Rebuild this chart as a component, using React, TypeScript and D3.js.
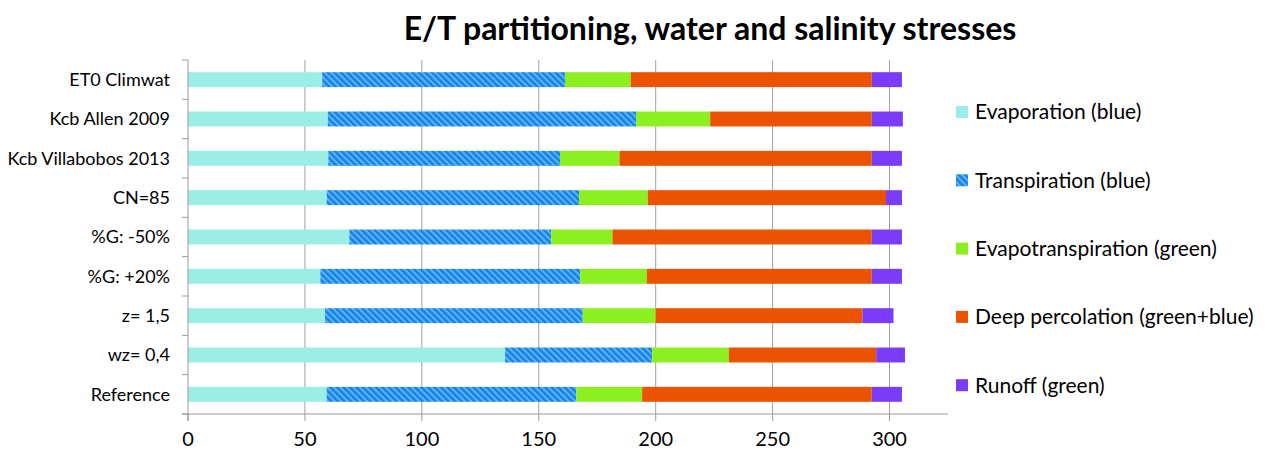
import React from "react";
import * as d3 from "d3";

const categories = [
  "ET0 Climwat",
  "Kcb Allen 2009",
  "Kcb Villabobos 2013",
  "CN=85",
  "%G: -50%",
  "%G: +20%",
  "z= 1,5",
  "wz= 0,4",
  "Reference",
];
const evaporation = [57.4, 59.8, 60.0, 59.3, 69.0, 56.6, 58.6, 135.6, 59.3];
const transpiration = [103.8, 131.8, 99.1, 107.9, 86.3, 111.1, 110.2, 62.9, 106.8];
const evapotranspiration = [28.1, 31.7, 25.4, 29.4, 26.2, 28.5, 31.2, 32.8, 28.1];
const deepPercolation = [103.1, 69.1, 107.9, 101.9, 110.9, 96.2, 88.4, 63.0, 98.2];
const runoff = [12.9, 13.3, 12.9, 6.8, 12.9, 12.9, 13.3, 12.3, 12.9];
const seriesNames = [
  "Evaporation (blue)",
  "Transpiration (blue)",
  "Evapotranspiration (green)",
  "Deep percolation (green+blue)",
  "Runoff (green)",
];
const xTicks = [0, 50, 100, 150, 200, 250, 300];
const title = "E/T partitioning, water and salinity stresses";

const keys = ["evap", "transp", "et", "deep", "runoff"];
const fills = ["#9beee6", "url(#hatch)", "#8cf020", "#ec5300", "#7a3cf8"];
const FONT = "Lato, 'Open Sans', sans-serif";

export default function App() {
  const W = 1268;
  const H = 455;
  const left = 188;
  const right = 948;
  const top = 60;
  const bottom = 414;

  const table = categories.map((c, i) => ({
    cat: c,
    evap: evaporation[i],
    transp: transpiration[i],
    et: evapotranspiration[i],
    deep: deepPercolation[i],
    runoff: runoff[i],
  }));
  const stacked = d3.stack<any>().keys(keys)(table);

  const x = d3.scaleLinear().domain([0, 325]).range([left, right]);
  const y = d3.scaleBand().domain(categories).range([top, bottom]).paddingInner(0.62).paddingOuter(0.31);
  const step = y.step();

  return (
    <svg width={W} height={H} style={{ position: "absolute", left: 0, top: 0, background: "#fff" }}>
      <defs>
        <pattern id="hatch" patternUnits="userSpaceOnUse" width={4.6} height={4.6} patternTransform="rotate(-45)">
          <rect x={0} y={0} width={4.6} height={4.6} fill="#52b6f7" />
          <rect x={0} y={0} width={2.4} height={4.6} fill="#1a7ce6" />
        </pattern>
      </defs>
      <text x={710} y={40} textAnchor="middle" fontFamily={FONT} fontWeight="bold" fontSize={32} fill="#000">
        {title}
      </text>
      {/* grid */}
      {xTicks.slice(1).map((t) => (
        <line key={t} x1={x(t)} x2={x(t)} y1={top} y2={bottom} stroke="#a0a0a0" strokeWidth={1} />
      ))}
      {/* bars */}
      {stacked.map((s, si) => (
        <g key={s.key}>
          {s.map((d, i) => (
            <rect
              key={i}
              x={x(d[0])}
              y={y(categories[i])}
              width={x(d[1]) - x(d[0])}
              height={y.bandwidth()}
              fill={fills[si]}
            />
          ))}
        </g>
      ))}
      {/* y axis */}
      <line x1={left} x2={left} y1={top} y2={bottom + 7} stroke="#9a9a9a" />
      {d3.range(categories.length + 1).map((i) => (
        <line key={i} x1={left - 6} x2={left} y1={top + i * step} y2={top + i * step} stroke="#9a9a9a" />
      ))}
      {categories.map((c) => (
        <text
          key={c}
          x={170}
          y={(y(c) as number) + y.bandwidth() / 2}
          dy="0.35em"
          textAnchor="end"
          fontFamily={FONT}
          fontSize={18}
          fill="#000"
        >
          {c}
        </text>
      ))}
      {/* x axis */}
      <line x1={left - 6} x2={right} y1={bottom} y2={bottom} stroke="#9a9a9a" />
      {xTicks.map((t) => (
        <g key={t}>
          <line x1={x(t)} x2={x(t)} y1={bottom} y2={bottom + 7} stroke="#9a9a9a" />
          <text x={x(t)} y={446} textAnchor="middle" fontFamily={FONT} fontSize={20} fill="#000">
            {t}
          </text>
        </g>
      ))}
      {/* legend */}
      {seriesNames.map((n, i) => (
        <g key={n} transform={`translate(956, ${112 + i * 68.3})`}>
          <rect x={0} y={-6} width={12} height={12} fill={fills[i]} />
          <text x={19} y={0} dy="0.35em" fontFamily={FONT} fontSize={21} fill="#000">
            {n}
          </text>
        </g>
      ))}
    </svg>
  );
}
